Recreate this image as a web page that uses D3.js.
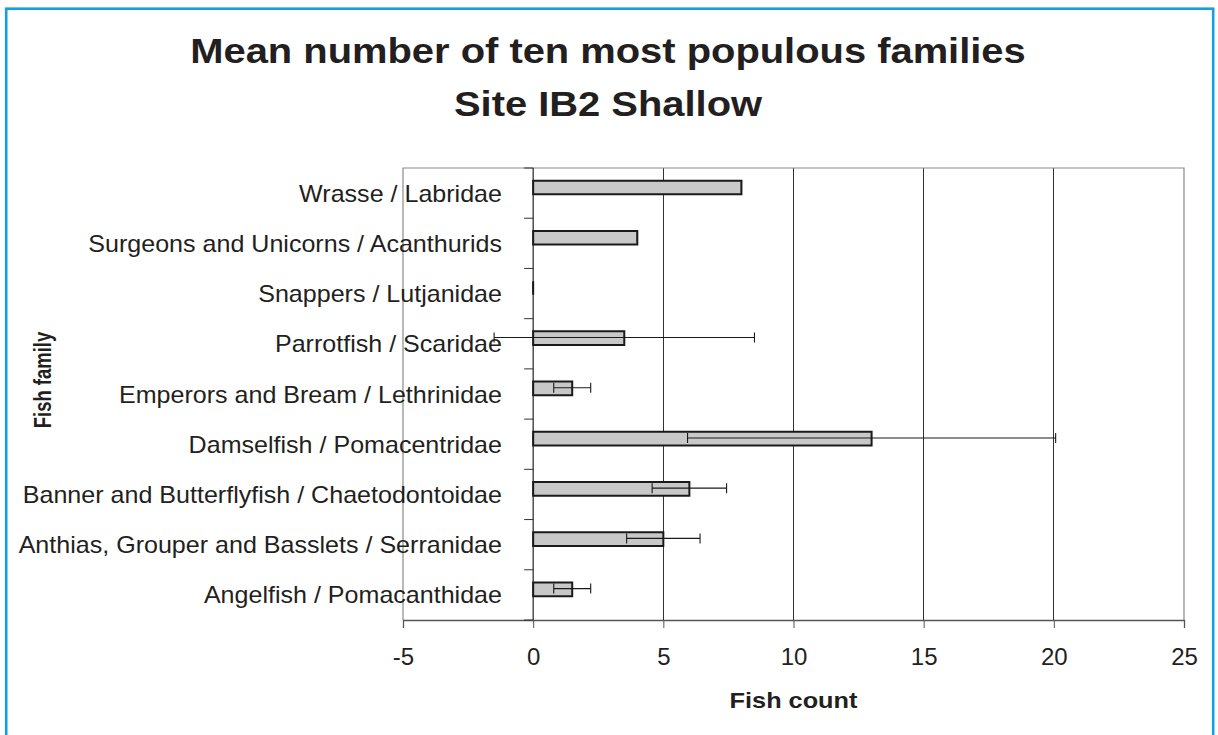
<!DOCTYPE html>
<html><head><meta charset="utf-8">
<script src="https://cdn.jsdelivr.net/npm/d3@7"></script>
<style>body{margin:0;background:#fff}svg{display:block;font-family:"Liberation Sans",Arial,sans-serif}</style>
</head><body><svg id="c" width="1218" height="735"></svg>
<script>
const categories = ["Wrasse / Labridae","Surgeons and Unicorns / Acanthurids","Snappers / Lutjanidae","Parrotfish / Scaridae","Emperors and Bream / Lethrinidae","Damselfish / Pomacentridae","Banner and Butterflyfish / Chaetodontoidae","Anthias, Grouper and Basslets / Serranidae","Angelfish / Pomacanthidae"];
const means = [8, 4, 0, 3.5, 1.5, 13, 6, 5, 1.5];
const errors = [0, 0, 0, 5, 0.71, 7.07, 1.43, 1.41, 0.71];
const xTicks = [-5, 0, 5, 10, 15, 20, 25];
const titleLines = ["Mean number of ten most populous families", "Site IB2 Shallow"];
const xTitle = "Fish count", yTitle = "Fish family";

const svg = d3.select("#c");
const ink = "#231f20";
const L = 403, R = 1184, T = 168, B = 620;
const x = d3.scaleLinear().domain([-5, 25]).range([L, R]);
const y = d3.scaleBand().domain(categories).range([T, B]);
const bw = y.bandwidth();

// frame
svg.append("rect").attr("x",6.2).attr("y",8.7).attr("width",1207).attr("height",740)
  .attr("fill","none").attr("stroke","#12a0e0").attr("stroke-width",2.6);

// title (horizontally stretched like the reference)
svg.append("g").selectAll("g").data(titleLines).join("g")
  .attr("transform",(d,i)=>`translate(608,${63+i*53}) scale(1.14,1)`)
  .append("text").attr("text-anchor","middle")
  .attr("font-size",35).attr("font-weight","bold").attr("fill",ink).text(d=>d);

// gridlines
svg.append("g").selectAll("line").data(xTicks.filter(t=>t>0 && t<25)).join("line")
  .attr("x1",d=>x(d)).attr("x2",d=>x(d)).attr("y1",T).attr("y2",B)
  .attr("stroke","#333").attr("stroke-width",1).attr("shape-rendering","crispEdges");

// plot border
svg.append("path").attr("d",`M${L},${B}V${T}H${R}V${B}`).attr("fill","none")
  .attr("stroke","#8a8a8a").attr("stroke-width",1.2);

// x axis
const xa = svg.append("g").attr("transform",`translate(0,${B})`)
  .call(d3.axisBottom(x).tickValues(xTicks).tickSize(8).tickPadding(20).tickFormat(d=>String(d)));
xa.select(".domain").attr("stroke","#555").attr("stroke-width",1.3);
xa.selectAll(".tick line").attr("stroke","#555");
xa.selectAll("text").attr("font-size",24).attr("fill",ink).attr("font-family","Liberation Sans, Arial, sans-serif");

// category labels, right-aligned, slightly stretched
svg.append("g").selectAll("g").data(categories).join("g")
  .attr("transform",c=>`translate(502,${y(c)+bw/2}) scale(1.09,1)`)
  .append("text").attr("text-anchor","end").attr("dy","0.37em")
  .attr("font-size",23).attr("fill",ink).text(c=>c);

// category axis at x=0
svg.append("line").attr("x1",x(0)).attr("x2",x(0)).attr("y1",T).attr("y2",B).attr("stroke","#222").attr("stroke-width",1.2);
svg.append("g").selectAll("line").data(d3.range(categories.length+1)).join("line")
  .attr("x1",x(0)-9).attr("x2",x(0)).attr("y1",i=>T+i*bw).attr("y2",i=>T+i*bw)
  .attr("stroke","#333").attr("stroke-width",1);

// bars
const bt = bw*0.253, bh = bw*0.272;
svg.append("g").selectAll("path").data(categories).join("path")
  .attr("d",(c,i)=>{const y0=y(c)+bt, y1=y0+bh, x0=x(0), x1=x(means[i]); return `M${x0},${y0}H${x1}V${y1}H${x0}Z`;})
  .attr("fill","#c8c8c8").attr("stroke","#1a1a1a").attr("stroke-width",2);

// error bars
const eg = svg.append("g").attr("stroke","#1a1a1a").attr("stroke-width",1.1).attr("fill","none");
categories.forEach((c,i)=>{
  const cy = y(c)+bt+bh/2-0.7, lo = x(means[i]-errors[i]), hi = x(means[i]+errors[i]);
  eg.append("path").attr("d",`M${lo},${cy}H${hi}M${lo},${cy-5}V${cy+5}M${hi},${cy-5}V${cy+5}`);
});

// axis titles
svg.append("g").attr("transform",`translate(${(L+R)/2},708) scale(1.15,1)`)
  .append("text").attr("text-anchor","middle")
  .attr("font-size",22).attr("font-weight","bold").attr("fill",ink).text(xTitle);
svg.append("g").attr("transform","translate(51,380) scale(1.3,1) rotate(-90)")
  .append("text").attr("text-anchor","middle")
  .attr("font-size",18.5).attr("font-weight","bold").attr("fill",ink).text(yTitle);
</script></body></html>
